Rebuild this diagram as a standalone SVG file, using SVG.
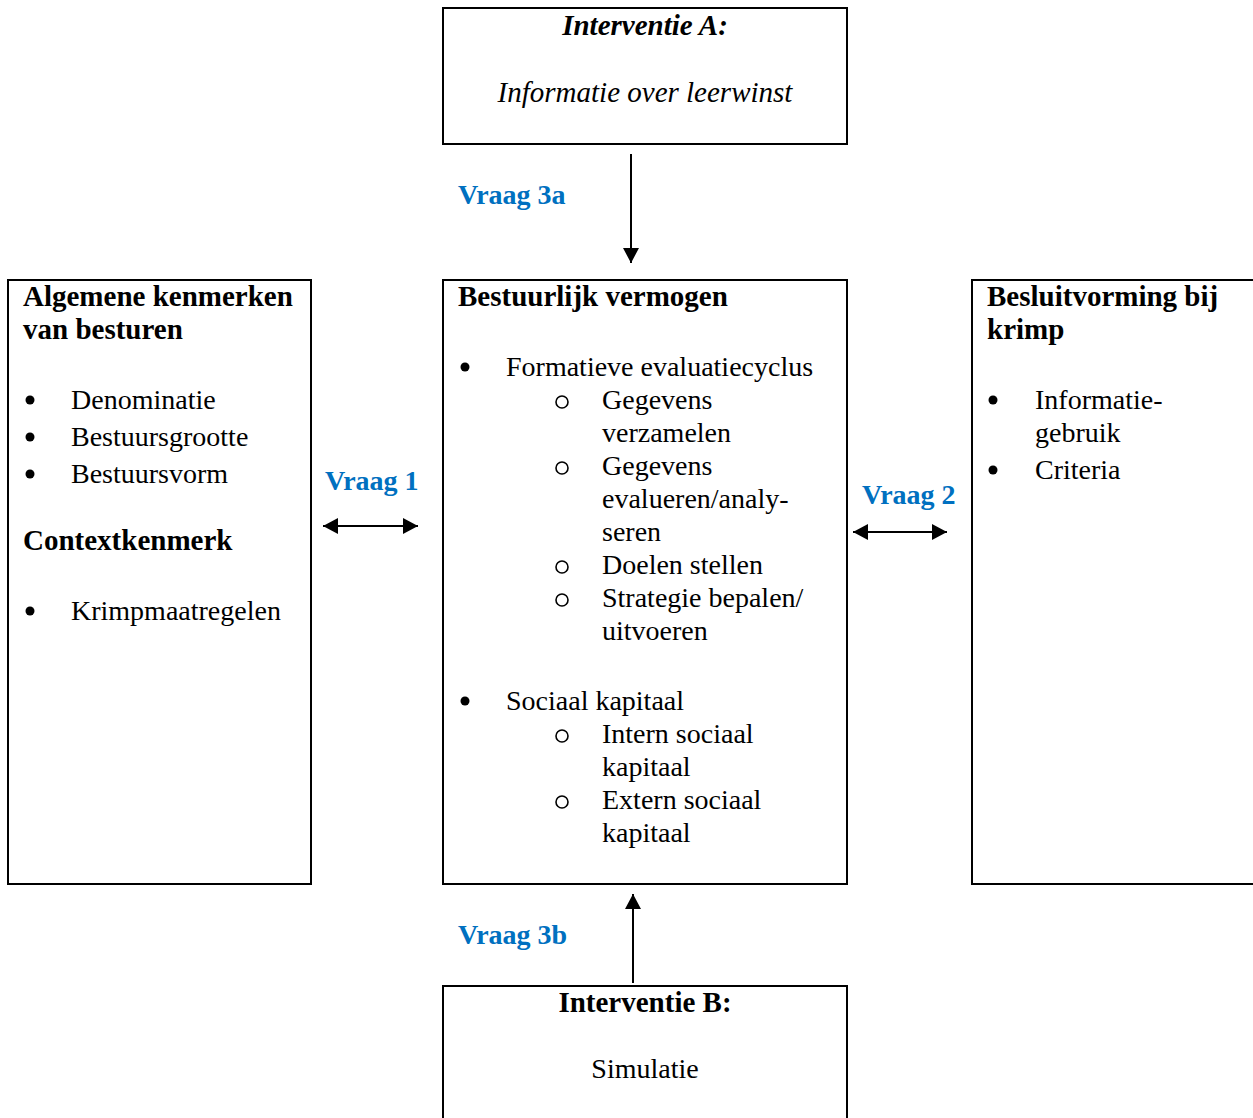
<svg xmlns="http://www.w3.org/2000/svg" width="1253" height="1118" viewBox="0 0 1253 1118">
<style>
.box{fill:#fff;stroke:#000;stroke-width:2}
.t{font-family:"Liberation Serif","Times New Roman",serif;font-size:28px;fill:#000}
.b{font-weight:bold;font-size:29px}
.i{font-style:italic;font-size:29px}
.q{font-family:"Liberation Serif","Times New Roman",serif;font-size:28px;font-weight:bold;fill:#0070C0}
.dot{fill:#000}
.ring{fill:none;stroke:#000;stroke-width:1.6}
.conn{stroke:#000;stroke-width:2;fill:none}
</style>
<defs>
<marker id="ah" markerUnits="userSpaceOnUse" markerWidth="16" markerHeight="16" refX="15" refY="8" orient="auto-start-reverse">
<path d="M0,0 L15,8 L0,16 Z" fill="#000"/>
</marker>
</defs>
<rect width="1253" height="1118" fill="#fff"/>

<g id="interventieA">
<rect class="box" x="443" y="8" width="404" height="136"/>
<text class="t b i" x="645" y="35" text-anchor="middle">Interventie A:</text>
<text class="t i" x="645" y="102" text-anchor="middle">Informatie over leerwinst</text>
</g>

<g id="algemene">
<rect class="box" x="8" y="280" width="303" height="604"/>
<text class="t b" x="23" y="306">Algemene kenmerken</text>
<text class="t b" x="23" y="339">van besturen</text>
<circle class="dot" cx="30" cy="400" r="4.5"/>
<text class="t" x="71" y="409">Denominatie</text>
<circle class="dot" cx="30" cy="437" r="4.5"/>
<text class="t" x="71" y="446">Bestuursgrootte</text>
<circle class="dot" cx="30" cy="474" r="4.5"/>
<text class="t" x="71" y="483">Bestuursvorm</text>
<text class="t b" x="23" y="550">Contextkenmerk</text>
<circle class="dot" cx="30" cy="611" r="4.5"/>
<text class="t" x="71" y="620">Krimpmaatregelen</text>
</g>

<g id="bestuurlijk">
<rect class="box" x="443" y="280" width="404" height="604"/>
<text class="t b" x="458" y="306">Bestuurlijk vermogen</text>
<circle class="dot" cx="465" cy="367" r="4.5"/>
<text class="t" x="506" y="376">Formatieve evaluatiecyclus</text>
<circle class="ring" cx="562" cy="402" r="6"/>
<text class="t" x="602" y="409">Gegevens</text>
<text class="t" x="602" y="442">verzamelen</text>
<circle class="ring" cx="562" cy="468" r="6"/>
<text class="t" x="602" y="475">Gegevens</text>
<text class="t" x="602" y="508">evalueren/analy-</text>
<text class="t" x="602" y="541">seren</text>
<circle class="ring" cx="562" cy="567" r="6"/>
<text class="t" x="602" y="574">Doelen stellen</text>
<circle class="ring" cx="562" cy="600" r="6"/>
<text class="t" x="602" y="607">Strategie bepalen/</text>
<text class="t" x="602" y="640">uitvoeren</text>
<circle class="dot" cx="465" cy="701" r="4.5"/>
<text class="t" x="506" y="710">Sociaal kapitaal</text>
<circle class="ring" cx="562" cy="736" r="6"/>
<text class="t" x="602" y="743">Intern sociaal</text>
<text class="t" x="602" y="776">kapitaal</text>
<circle class="ring" cx="562" cy="802" r="6"/>
<text class="t" x="602" y="809">Extern sociaal</text>
<text class="t" x="602" y="842">kapitaal</text>
</g>

<g id="besluitvorming">
<rect class="box" x="972" y="280" width="300" height="604"/>
<text class="t b" x="987" y="306">Besluitvorming bij</text>
<text class="t b" x="987" y="339">krimp</text>
<circle class="dot" cx="993" cy="400" r="4.5"/>
<text class="t" x="1035" y="409">Informatie-</text>
<text class="t" x="1035" y="442">gebruik</text>
<circle class="dot" cx="993" cy="470" r="4.5"/>
<text class="t" x="1035" y="479">Criteria</text>
</g>

<g id="interventieB">
<rect class="box" x="443" y="986" width="404" height="150"/>
<text class="t b" x="645" y="1012" text-anchor="middle">Interventie B:</text>
<text class="t" x="645" y="1078" text-anchor="middle">Simulatie</text>
</g>

<g id="connectors">
<line class="conn" x1="631" y1="154" x2="631" y2="263" marker-end="url(#ah)"/>
<line class="conn" x1="633" y1="983" x2="633" y2="894" marker-end="url(#ah)"/>
<line class="conn" x1="323" y1="526" x2="418" y2="526" marker-start="url(#ah)" marker-end="url(#ah)"/>
<line class="conn" x1="853" y1="532" x2="947" y2="532" marker-start="url(#ah)" marker-end="url(#ah)"/>
<text class="q" x="458" y="204">Vraag 3a</text>
<text class="q" x="325" y="490">Vraag 1</text>
<text class="q" x="862" y="504">Vraag 2</text>
<text class="q" x="458" y="944">Vraag 3b</text>
</g>
</svg>
